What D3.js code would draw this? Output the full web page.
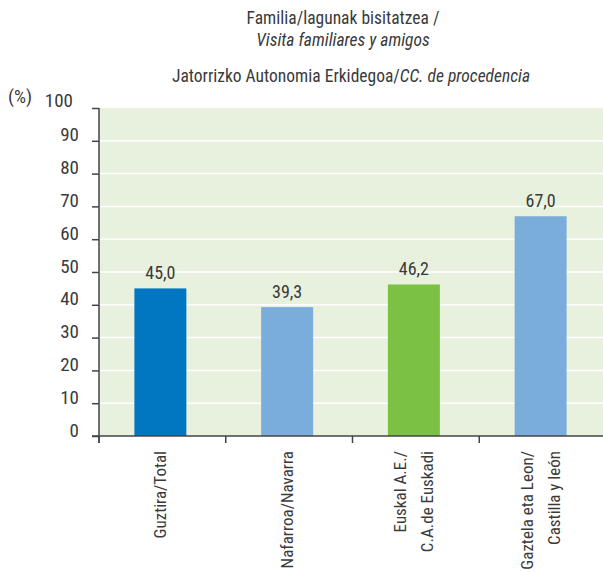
<!DOCTYPE html>
<html><head><meta charset="utf-8">
<script src="https://cdn.jsdelivr.net/npm/d3@7"></script>
<style>
body{margin:0;background:#fff;}
text{font-family:"Liberation Sans Narrow","Arial Narrow","Roboto Condensed",sans-serif;fill:#3a3a3a;}
</style></head><body>
<svg id="c" width="603" height="572"></svg>
<script>
const categories = [["Guztira/Total"],["Nafarroa/Navarra"],["Euskal A.E./","C.A.de Euskadi"],["Gaztela eta Leon/","Castilla y león"]];
const values = [45.0, 39.3, 46.2, 67.0];
const barColors = ["#0077c0","#7aaddb","#7bc143","#7aaddb"];
const yTicks = [0,10,20,30,40,50,60,70,80,90,100];
const titleLines = ["Familia/lagunak bisitatzea /","Visita familiares y amigos"];
const subtitle = ["Jatorrizko Autonomia Erkidegoa/","CC. de procedencia"];

const svg = d3.select("#c");
const L=99, R=606, T=108, B=436;
const x = d3.scaleBand().domain(d3.range(categories.length)).range([L,R]).paddingInner(0.59).paddingOuter(0.295);
const y = d3.scaleLinear().domain([0,100]).range([B,T]);

svg.append("rect").attr("x",L).attr("y",T).attr("width",R-L).attr("height",B-T).attr("fill","#e8f0de");
svg.append("g").selectAll("line").data(yTicks.filter(d=>d>0&&d<100)).join("line")
  .attr("x1",L).attr("x2",R).attr("y1",d=>y(d)).attr("y2",d=>y(d)).attr("stroke","#fff").attr("stroke-width",1.5);

svg.append("g").selectAll("rect").data(values).join("rect")
  .attr("x",(d,i)=>x(i)-2).attr("width",x.bandwidth()).attr("y",d=>y(d)).attr("height",d=>B-y(d)).attr("fill",(d,i)=>barColors[i]);

svg.append("g").selectAll("text").data(values).join("text")
  .attr("x",(d,i)=>x(i)-2+x.bandwidth()/2).attr("y",d=>y(d)-9).attr("text-anchor","middle")
  .style("font-size","18px").text(d=>d.toFixed(1).replace(".",","));

// y axis
const ya = svg.append("g").attr("transform",`translate(${L},0)`)
  .call(d3.axisLeft(y).tickValues(yTicks).tickSize(7).tickPadding(13).tickFormat(d3.format("d")));
ya.select(".domain").attr("d",`M0,${T}V${B+7}`).attr("stroke","#444").attr("stroke-width",1.5);
ya.selectAll(".tick line").attr("stroke","#444").attr("stroke-width",1.5);
ya.selectAll(".tick text").attr("dy","0").style("font-size","19px").style("font-family",null).attr("fill","#3a3a3a");
ya.selectAll(".tick text").filter(d=>d===100).attr("x",-26).attr("dy","-2");

// x axis
const xa = svg.append("g").attr("transform",`translate(0,${B})`);
xa.append("line").attr("x1",L-7).attr("x2",R).attr("y1",0).attr("y2",0).attr("stroke","#444").attr("stroke-width",1.5);
const bounds = d3.range(categories.length).map(i=>x(i)-x.step()*x.paddingInner()/2);
xa.selectAll("line.t").data(bounds).join("line").attr("class","t")
  .attr("x1",d=>d).attr("x2",d=>d).attr("y1",0).attr("y2",7).attr("stroke","#444").attr("stroke-width",1.5);

const lab = svg.append("g").selectAll("text").data(categories).join("text")
  .attr("transform",(d,i)=>`translate(${x(i)-2+x.bandwidth()/2},451) rotate(-90)`)
  .attr("text-anchor","end").style("font-size","17px");
lab.each(function(lines){
  const t=d3.select(this); const n=lines.length; const lh=27;
  lines.forEach((s,k)=>{
    t.append("tspan").attr("x",0).attr("y",(k-(n-1)/2)*lh+6).text(s);
  });
});

svg.append("text").attr("x",343).attr("y",24).attr("text-anchor","middle").style("font-size","17.5px").text(titleLines[0]);
svg.append("text").attr("x",343).attr("y",46).attr("text-anchor","middle").style("font-size","17.5px").style("font-style","italic").text(titleLines[1]);
const st = svg.append("text").attr("x",351).attr("y",82).attr("text-anchor","middle").style("font-size","17.5px");
st.append("tspan").text(subtitle[0]);
st.append("tspan").style("font-style","italic").text(subtitle[1]);
svg.append("text").attr("x",8).attr("y",103).style("font-size","19px").text("(%)");
</script></body></html>
